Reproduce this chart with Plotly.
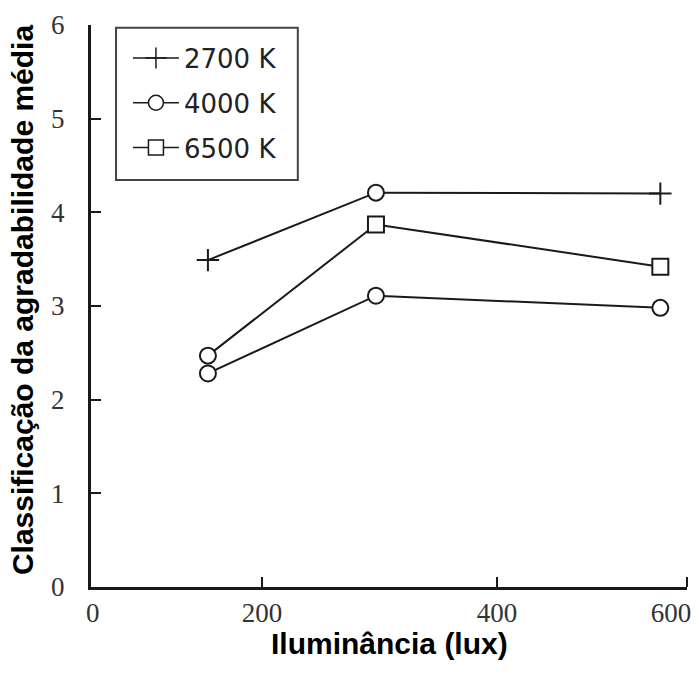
import plotly.graph_objects as go

# illuminance (lux) and mean pleasantness rating
lux = [154, 297, 539]
rating_2700 = [3.49, 4.21, 4.20]
rating_4000 = [2.28, 3.11, 2.98]
rating_6500 = [2.47, 3.87, 3.42]

series_names = ["2700 K", "4000 K", "6500 K"]
# the source figure mixes symbols inside a series, kept as drawn
point_symbols = [
    ["cross-thin", "circle", "cross-thin"],
    ["circle", "circle", "circle"],
    ["circle", "square", "square"],
]
legend_symbols = ["cross-thin", "circle", "square"]

# x scale follows the 200/400 tick marks; the 0 and 600 labels sit at the axis ends
x_range = [54.5, 561.7]
x_label_pos = [56, 200, 400, 548]
x_label_text = ["0", "200", "400", "600"]
x_tick_marks = [200, 400, 561.7]
y_ticks = [0, 1, 2, 3, 4, 5, 6]

INK = "#1a1a1a"
SANS = "Liberation Sans, Arial, sans-serif"
SERIF = "Liberation Serif, Times New Roman, serif"

fig = go.Figure()
for name, ys, syms, lsym in zip(series_names, [rating_2700, rating_4000, rating_6500],
                                point_symbols, legend_symbols):
    fig.add_trace(go.Scatter(
        x=lux, y=ys, mode="lines+markers", showlegend=False,
        line=dict(color=INK, width=2),
        marker=dict(symbol=syms, size=16, color="white", line=dict(color=INK, width=2)),
    ))
    fig.add_trace(go.Scatter(
        x=[None], y=[None], mode="lines+markers", name=name, legendgroup=name,
        line=dict(color=INK, width=1.5),
        marker=dict(symbol=lsym, size=15, color="white", line=dict(color=INK, width=1.5)),
    ))

# legend frame drawn as a shape so it can carry the roomy padding of the original
fig.add_shape(type="rect", xref="paper", yref="paper",
              x0=0.042, x1=0.347, y0=0.724, y1=0.995,
              line=dict(color="#444", width=2), fillcolor="white", layer="below")

# axis titles as annotations so they sit where the original puts them
fig.add_annotation(text="<b>Iluminância (lux)</b>", xref="paper", yref="paper",
                   x=0.5, y=-0.1, xanchor="center", yanchor="middle", showarrow=False,
                   font=dict(family=SANS, size=30, color="black"))
fig.add_annotation(text="<b>Classificação da agradabilidade média</b>", xref="paper", yref="paper",
                   x=-0.116, y=0.512, xanchor="center", yanchor="middle", showarrow=False,
                   textangle=-90, font=dict(family=SANS, size=30, color="black"))

fig.update_layout(
    width=699, height=673,
    margin=dict(l=91, r=12, t=25, b=86),
    plot_bgcolor="white", paper_bgcolor="white",
    legend=dict(
        x=0.062, y=0.983, xanchor="left", yanchor="top",
        borderwidth=0, bgcolor="rgba(0,0,0,0)",
        font=dict(family="DejaVu Sans, sans-serif", size=26, color="#222"),
        tracegroupgap=8, itemwidth=46,
    ),
    xaxis=dict(
        range=x_range, showgrid=False, zeroline=False,
        showline=True, linecolor=INK, linewidth=3,
        tickmode="array", tickvals=x_label_pos, ticktext=x_label_text, ticks="",
        tickfont=dict(family=SERIF, size=27, color="#333"),
        minor=dict(tickmode="array", tickvals=x_tick_marks, ticks="inside",
                   ticklen=10, tickwidth=2, tickcolor=INK),
        automargin=False,
    ),
    yaxis=dict(
        range=[0, 6], showgrid=False, zeroline=False,
        showline=True, linecolor=INK, linewidth=3,
        tickmode="array", tickvals=y_ticks, ticks="inside",
        ticklen=10, tickwidth=2, tickcolor=INK, ticklabelstandoff=18,
        tickfont=dict(family=SERIF, size=27, color="#333"),
        automargin=False,
    ),
)

# drop the default 8px body margin so the figure fills the window like the original
fig.write_html("out.html", config={"displayModeBar": False},
               post_script="document.body.style.margin = '0';")
